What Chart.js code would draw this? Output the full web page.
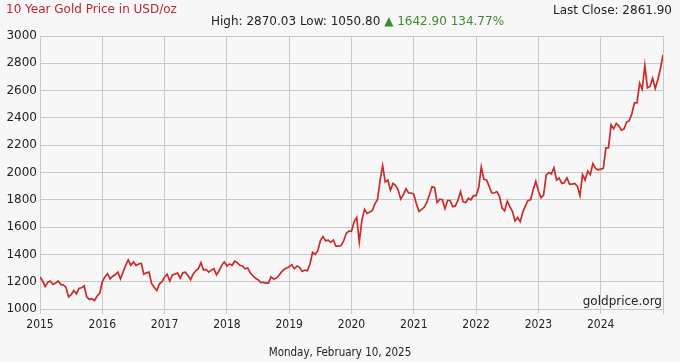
<!DOCTYPE html>
<html>
<head>
<meta charset="utf-8">
<script src="https://cdn.jsdelivr.net/npm/chart.js@4.4.1/dist/chart.umd.min.js"></script>
<style>
  body { margin: 0; background: #f7f7f7; font-family: "DejaVu Sans", Verdana, sans-serif; }
  #wrap { position: relative; width: 680px; height: 362px; }
  canvas { position: absolute; left: 0; top: 0; }
  .t { position: absolute; white-space: nowrap; font-size: 12px; color: #222; line-height: 14px; }
</style>
</head>
<body>
<div id="wrap">
  <canvas id="gold" width="680" height="362"></canvas>
  <div class="t" style="left:6px; top:2px; color:#b8282e;">10 Year Gold Price in USD/oz</div>
  <div class="t" style="left:211px; top:14px;">High: 2870.03 Low: 1050.80 <span style="color:#3d8b2f;">&#9650; 1642.90 134.77%</span></div>
  <div class="t" style="right:8px; top:3px;">Last Close: 2861.90</div>
  <div class="t" style="right:18px; top:294px;">goldprice.org</div>
  <div class="t" style="left:0; width:680px; text-align:center; top:345px; font-family:'DejaVu Sans Condensed','DejaVu Sans'; font-size:11.5px;">Monday, February 10, 2025</div>
</div>
<script>
// tick labels, one per year (tick at each Feb 10)
const yearLabels = ['2015', '2016', '2017', '2018', '2019', '2020', '2021', '2022', '2023', '2024', ''];

// semi-monthly closes, Feb of the year through Jan of the next
const y2015 = [1235, 1205, 1165, 1195, 1205, 1180, 1190, 1205, 1180, 1175, 1160, 1090,
               1105, 1135, 1110, 1150, 1155, 1170, 1090, 1070, 1075, 1062, 1095, 1115];
const y2016 = [1200, 1235, 1260, 1220, 1240, 1250, 1270, 1220, 1270, 1320, 1360, 1320,
               1345, 1320, 1330, 1335, 1255, 1265, 1270, 1185, 1160, 1135, 1185, 1200];
const y2017 = [1235, 1255, 1205, 1250, 1255, 1265, 1225, 1265, 1270, 1245, 1215, 1255,
               1280, 1295, 1340, 1285, 1290, 1270, 1285, 1295, 1250, 1280, 1320, 1345];
const y2018 = [1315, 1330, 1320, 1350, 1340, 1320, 1315, 1295, 1300, 1265, 1245, 1225,
               1215, 1195, 1195, 1190, 1190, 1235, 1220, 1225, 1245, 1270, 1290, 1300];
const y2019 = [1310, 1325, 1295, 1315, 1305, 1275, 1285, 1280, 1330, 1415, 1400, 1425,
               1500, 1530, 1500, 1505, 1490, 1505, 1460, 1460, 1465, 1500, 1555, 1570];
const y2020 = [1570, 1640, 1670, 1490, 1650, 1730, 1700, 1710, 1720, 1770, 1800, 1940,
               2050, 1930, 1945, 1870, 1920, 1905, 1870, 1805, 1840, 1880, 1850, 1850];
const y2021 = [1840, 1770, 1715, 1730, 1745, 1780, 1835, 1895, 1890, 1780, 1805, 1800,
               1735, 1795, 1795, 1750, 1755, 1795, 1860, 1785, 1780, 1810, 1800, 1830];
const y2022 = [1830, 1890, 2040, 1950, 1945, 1900, 1850, 1850, 1860, 1825, 1740, 1720,
               1790, 1750, 1715, 1645, 1670, 1640, 1710, 1755, 1795, 1800, 1875, 1935];
const y2023 = [1865, 1815, 1835, 1980, 2000, 1990, 2035, 1945, 1960, 1920, 1925, 1960,
               1915, 1915, 1920, 1900, 1830, 1985, 1945, 2010, 1985, 2065, 2030, 2020];
const y2024 = [2025, 2030, 2180, 2180, 2350, 2320, 2360, 2340, 2310, 2320, 2370, 2380,
               2430, 2510, 2510, 2655, 2610, 2785, 2620, 2630, 2690, 2615, 2680, 2760];
const lastClose = [2861.9];

const closes = [].concat(y2015, y2016, y2017, y2018, y2019, y2020, y2021, y2022, y2023, y2024, lastClose);
const points = closes.map((v, i) => ({ x: i / 24, y: v }));

const fitWidth = w => scale => { scale.width = w; };
const fitHeight = h => scale => { scale.height = h; };

new Chart(document.getElementById('gold'), {
  type: 'line',
  data: {
    datasets: [{
      data: points,
      borderColor: '#c92c2a',
      borderWidth: 1.7,
      pointRadius: 0,
      tension: 0,
      fill: false
    }]
  },
  options: {
    responsive: false,
    animation: false,
    layout: { padding: { left: 0, right: 17, top: 36, bottom: 0 } },
    plugins: { legend: { display: false }, tooltip: { enabled: false } },
    scales: {
      x: {
        type: 'linear',
        min: 0,
        max: 10,
        afterFit: fitHeight(53),
        grid: { color: '#c8c8c8', tickLength: 5, drawTicks: true },
        border: { color: '#c8c8c8' },
        ticks: {
          stepSize: 1,
          padding: 4,
          maxRotation: 0,
          color: '#222',
          font: { family: 'DejaVu Sans Condensed, DejaVu Sans', size: 12 },
          callback: v => yearLabels[v] ?? ''
        }
      },
      y: {
        min: 1000,
        max: 3000,
        afterFit: fitWidth(40),
        grid: { color: '#c8c8c8', drawTicks: false },
        border: { color: '#c8c8c8' },
        ticks: {
          stepSize: 200,
          padding: 3,
          color: '#222',
          font: { family: 'DejaVu Sans', size: 12 },
          callback: v => String(v)
        }
      }
    }
  }
});
</script>
</body>
</html>
